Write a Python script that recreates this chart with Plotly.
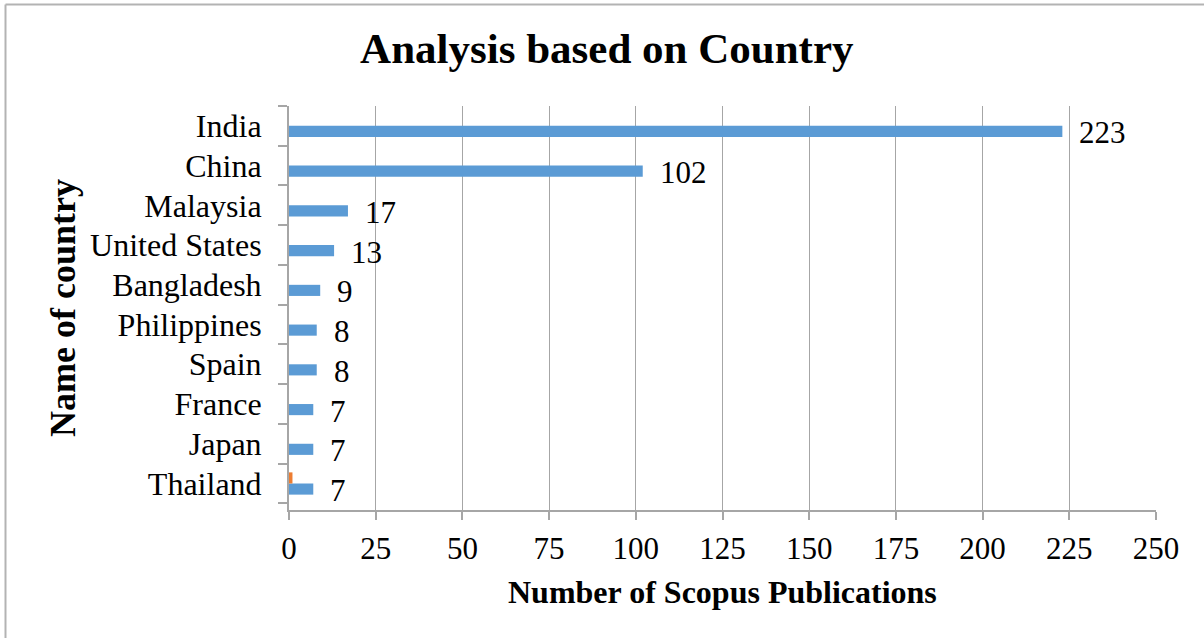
import plotly.graph_objects as go

# Publications per country (top to bottom as listed)
countries = ["India", "China", "Malaysia", "United States", "Bangladesh",
             "Philippines", "Spain", "France", "Japan", "Thailand"]
publications = [223, 102, 17, 13, 9, 8, 8, 7, 7, 7]
# Second series: only a single small entry
series2 = [None, None, None, None, None, None, None, None, None, 1]
x_ticks = [0, 25, 50, 75, 100, 125, 150, 175, 200, 225, 250]

BLUE = "#5B9BD5"
ORANGE = "#ED7D31"
GRID = "#A6A6A6"
FONT = "Liberation Serif"

W, H = 1204, 638
L, R, T, B = 289, 48, 106, 128
PW, PH = W - L - R, H - T - B

fig = go.Figure()
fig.add_trace(go.Bar(y=countries, x=publications, orientation="h",
                     marker=dict(color=BLUE, line=dict(width=0)),
                     name="Series1", hoverinfo="x+y"))
fig.add_trace(go.Bar(y=countries, x=series2, orientation="h",
                     marker=dict(color=ORANGE, line=dict(width=0)),
                     name="Series2", hoverinfo="x+y"))

# value labels to the right of each blue bar
annotations = []
for c, v in zip(countries, publications):
    annotations.append(dict(x=v, y=c, xref="x", yref="y", text=str(v),
                            showarrow=False, xanchor="left", yanchor="middle",
                            xshift=15, yshift=-7,
                            font=dict(family=FONT, size=31, color="black")))

# axis titles
annotations.append(dict(x=0.5, y=0, xref="paper", yref="paper",
                        text="<b>Number of Scopus Publications</b>",
                        showarrow=False, xanchor="center", yanchor="middle",
                        yshift=-82, font=dict(family=FONT, size=32, color="black")))
annotations.append(dict(x=0, y=0.5, xref="paper", yref="paper",
                        text="<b>Name of country</b>", textangle=-90,
                        showarrow=False, xanchor="center", yanchor="middle",
                        xshift=-226, font=dict(family=FONT, size=36, color="black")))

# outer chart frame (top and left edges)
def px_x(p):
    return (p - L) / PW

def px_y(p):
    return (H - B - p) / PH

shapes = [
    dict(type="line", xref="paper", yref="paper",
         x0=px_x(5.5), x1=px_x(W + 2), y0=px_y(4.5), y1=px_y(4.5),
         line=dict(color="#B3B3B3", width=2)),
    dict(type="line", xref="paper", yref="paper",
         x0=px_x(5.5), x1=px_x(5.5), y0=px_y(4.5), y1=px_y(H + 2),
         line=dict(color="#B3B3B3", width=2)),
]

fig.update_layout(
    width=W, height=H,
    margin=dict(l=L, r=R, t=T, b=B, pad=0),
    paper_bgcolor="white", plot_bgcolor="white",
    barmode="group", bargap=0.44, bargroupgap=0,
    showlegend=False,
    title=dict(text="<b>Analysis based on Country</b>",
               x=0.504, xref="container", xanchor="center",
               y=1 - 48 / H, yref="container", yanchor="middle",
               font=dict(family=FONT, size=43, color="black")),
    annotations=annotations,
    shapes=shapes,
    xaxis=dict(range=[0, 250], tickvals=x_ticks, ticktext=[str(t) for t in x_ticks],
               showgrid=True, gridcolor=GRID, gridwidth=1,
               showline=True, linecolor=GRID, linewidth=2,
               ticks="outside", ticklen=8, tickcolor=GRID, tickwidth=2,
               ticklabelstandoff=2, zeroline=False,
               tickfont=dict(family=FONT, size=31, color="black")),
    yaxis=dict(categoryorder="array", categoryarray=countries[::-1],
               tickson="boundaries", showgrid=False,
               showline=True, linecolor=GRID, linewidth=2,
               ticks="outside", ticklen=9, tickcolor=GRID, tickwidth=2,
               ticklabelstandoff=19, zeroline=False,
               tickfont=dict(family=FONT, size=32, color="black")),
)

fig.write_html("out.html")
